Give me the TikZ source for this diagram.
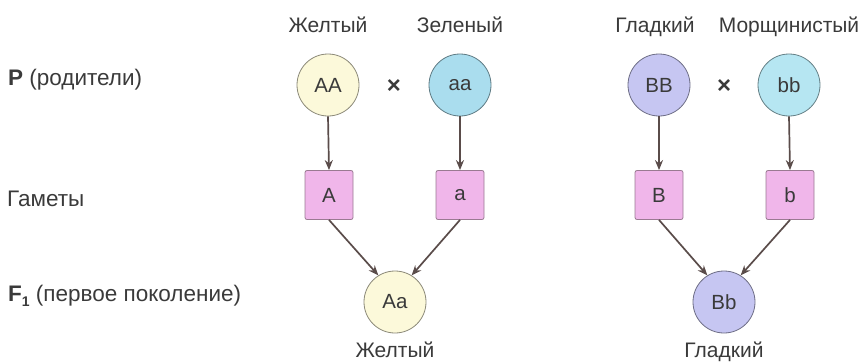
\documentclass[tikz,border=0pt]{standalone}
\usepackage{fontspec}
\setmainfont{Liberation Sans}
\usetikzlibrary{arrows.meta}
\definecolor{txt}{HTML}{3A3A3A}
\definecolor{ln}{HTML}{5A4C4A}
\definecolor{yel}{HTML}{FCF9DA}
\definecolor{cyn}{HTML}{AADDEE}
\definecolor{cyn2}{HTML}{B6E6F2}
\definecolor{lav}{HTML}{C6C6F2}
\definecolor{pnk}{HTML}{F0B6EA}
\definecolor{pnkb}{HTML}{9A7A92}
\begin{document}
\begin{tikzpicture}[x=1pt,y=-1pt,
  every node/.style={text=txt,inner sep=0pt},
  lbl/.style={font=\fontsize{21}{24}\selectfont,anchor=base},
  side/.style={font=\fontsize{22.5}{26}\selectfont,anchor=base west},
  geno/.style={circle,draw=#1!55!black,line width=0.8pt,minimum size=62pt,font=\fontsize{20.5}{24}\selectfont},
  gam/.style={rectangle,rounded corners=2pt,draw=pnkb,fill=pnk,line width=0.8pt,minimum width=48pt,minimum height=49pt,font=\fontsize{20.5}{24}\selectfont},
  cross/.style={font=\bfseries\fontsize{24}{26}\selectfont},
  arr/.style={draw=ln,line width=1.7pt,-{Stealth[length=10pt,width=8pt]}}]
\useasboundingbox (0,0) rectangle (864,362);
% side labels
\node[side] (lp) at (8,85) {\textbf{P} (родители)};
\node[side] (lg) at (7,206) {Гаметы};
\node[side] (lf) at (8,301) {\textbf{F}\raisebox{-0.45ex}{\fontsize{14}{15}\selectfont\textbf{1}} (первое поколение)};
% top labels
\node[lbl] (t1) at (328,32) {Желтый};
\node[lbl] (t2) at (460,32) {Зеленый};
\node[lbl] (t3) at (655,32) {Гладкий};
\node[lbl] (t4) at (789,32) {Морщинистый};
% parents
\node[geno=yel,fill=yel] (AA) at (328,85) {AA};
\node[geno=cyn,fill=cyn] (aa) at (460,85) {aa};
\node[geno=lav,fill=lav] (BB) at (659,85) {BB};
\node[geno=cyn2,fill=cyn2] (bb) at (789,85) {bb};
\node[cross] (x1) at (394,87) {×};
\node[cross] (x2) at (724,87) {×};
% gametes
\node[gam] (gA) at (329,195) {A};
\node[gam] (ga) at (460,195) {a};
\node[gam] (gB) at (659,195) {B};
\node[gam] (gb) at (790,195) {b};
% offspring
\node[geno=yel,fill=yel] (Aa) at (395,302) {Aa};
\node[geno=lav,fill=lav] (Bb) at (724,302) {Bb};
\node[lbl] (b1) at (395,357) {Желтый};
\node[lbl] (b2) at (724,357) {Гладкий};
% arrows
\draw[arr] (AA.south) -- (gA.north);
\draw[arr] (aa.south) -- (ga.north);
\draw[arr] (BB.south) -- (gB.north);
\draw[arr] (bb.south) -- (gb.north);
\draw[arr] (gA.south) -- (Aa.122);
\draw[arr] (ga.south) -- (Aa.58);
\draw[arr] (gB.south) -- (Bb.122);
\draw[arr] (gb.south) -- (Bb.58);
\end{tikzpicture}
\end{document}
